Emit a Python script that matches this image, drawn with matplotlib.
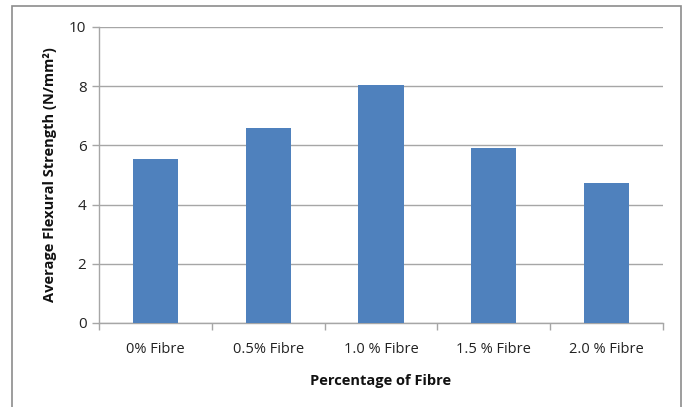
import matplotlib
matplotlib.use("Agg")
import matplotlib.pyplot as plt
from matplotlib.patches import Rectangle

categories = ["0% Fibre", "0.5% Fibre", "1.0 % Fibre", "1.5 % Fibre", "2.0 % Fibre"]
strength = [5.54, 6.59, 8.03, 5.91, 4.72]
yticks = [0, 2, 4, 6, 8, 10]

plt.rcParams['font.family'] = ['Open Sans', 'DejaVu Sans']

W, H = 688, 407
fig = plt.figure(figsize=(W / 100, H / 100), dpi=100)
ax = fig.add_axes([99 / W, 1 - 323 / H, (663 - 99) / W, (323 - 27) / H])

x = list(range(len(categories)))
ax.bar(x, strength, width=0.4, color="#4f81bd", zorder=3)

ax.set_xlim(-0.5, len(categories) - 0.5)
ax.set_ylim(0, 10)
ax.set_yticks(yticks)
ax.set_yticklabels([str(v) for v in yticks])
ax.set_xticks(x)
ax.set_xticklabels(categories)
ax.set_xticks([i - 0.5 for i in range(len(categories) + 1)], minor=True)

grid_c = "#a6a6a6"
ax.yaxis.grid(True, color=grid_c, linewidth=1.0, zorder=0)
for s in ["top", "right"]:
    ax.spines[s].set_visible(False)
for s in ["left", "bottom"]:
    ax.spines[s].set_color(grid_c)
    ax.spines[s].set_linewidth(1.0)

ax.tick_params(axis="x", which="major", length=0, pad=14, labelsize=10.5, colors="#222222")
ax.tick_params(axis="x", which="minor", length=5, color=grid_c, width=1.0)
ax.tick_params(axis="y", length=5, color=grid_c, width=1.0, pad=4, labelsize=11, labelcolor="#222222")

ax.set_xlabel("Percentage of Fibre", fontsize=10.5, fontweight="bold", labelpad=12, color="#111111")
ax.set_ylabel("Average Flexural Strength (N/mm²)", fontsize=10.5, fontweight="bold", labelpad=9, color="#111111")

border = Rectangle((12 / W, -0.1), (681 - 12) / W, 1.1 - 6.5 / H, transform=fig.transFigure,
                   fill=False, edgecolor="#8c8c8c", linewidth=1.2, clip_on=False)
fig.patches.append(border)

fig.savefig("out.png", dpi=100)
